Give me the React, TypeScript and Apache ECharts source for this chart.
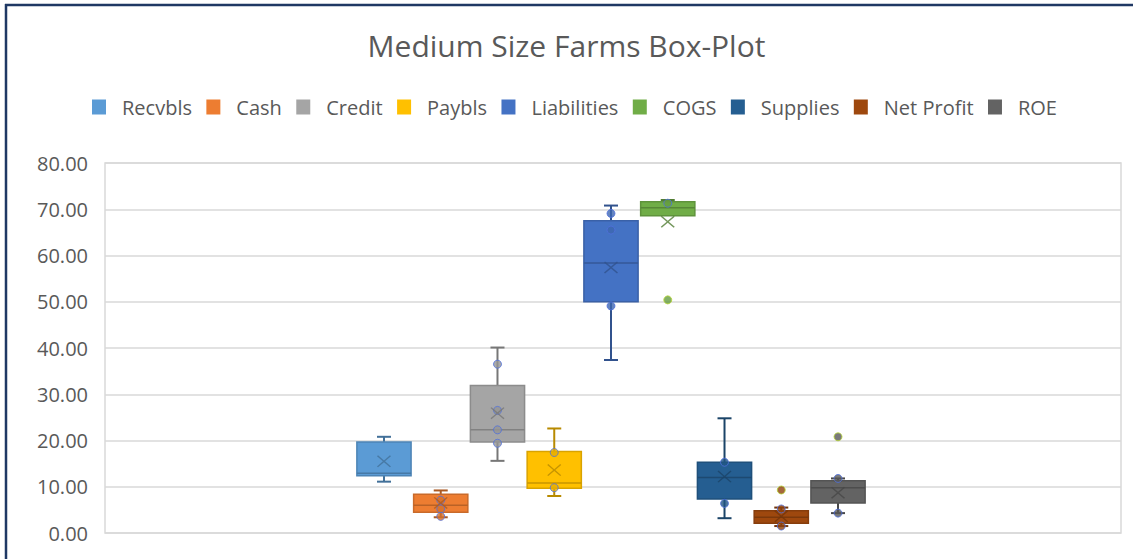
import React, { useEffect, useRef } from 'react';
import * as echarts from 'echarts';

// Box-plot statistics per measure (values in the same units as the y axis)
const categories = ['Recvbls', 'Cash', 'Credit', 'Paybls', 'Liabilities', 'COGS', 'Supplies', 'Net Profit', 'ROE'];
const whiskerLow = [11.1, 3.4, 15.6, 8.0, 37.4, 68.6, 3.2, 1.5, 4.3];
const quartile1 = [12.4, 4.5, 19.7, 9.7, 50.0, 68.6, 7.35, 2.1, 6.5];
const medians = [12.9, 6.0, 22.3, 10.8, 58.4, 70.3, 12.0, 3.4, 9.8];
const quartile3 = [19.7, 8.4, 31.9, 17.6, 67.5, 71.6, 15.3, 4.8, 11.3];
const whiskerHigh = [20.8, 9.2, 40.1, 22.6, 70.8, 72.0, 24.8, 5.5, 11.8];
const means = [15.5, 6.5, 25.9, 13.6, 57.4, 67.3, 12.2, 3.6, 8.7];
const innerPoints = [
  [],
  [7.1, 5.2, 3.6],
  [36.5, 26.5, 22.3, 19.4],
  [17.4, 9.8],
  [69.1, 65.5, 49.1],
  [71.3],
  [15.3, 6.4],
  [5.2, 1.5],
  [11.8, 4.3],
];
const outliers = [[], [], [], [], [], [50.4], [], [9.3], [20.8]];

const seriesColors = ['#5B9BD5', '#ED7D31', '#A5A5A5', '#FFC000', '#4472C4', '#70AD47', '#255E91', '#9E480E', '#636363'];

const FONT = '"Open Sans", sans-serif';
const TEXT = '#595959';

function shade(hex: string, f: number): string {
  const n = parseInt(hex.slice(1), 16);
  const r = Math.round(((n >> 16) & 255) * f);
  const g = Math.round(((n >> 8) & 255) * f);
  const b = Math.round((n & 255) * f);
  return `rgb(${r},${g},${b})`;
}

const X_MARK = 'path://M0,0.9L0.9,0L6,5.1L11.1,0L12,0.9L6.9,6L12,11.1L11.1,12L6,6.9L0.9,12L0,11.1L5.1,6Z';

export default function App() {
  const ref = useRef<HTMLDivElement>(null);

  useEffect(() => {
    if (!ref.current) return;
    const chart = echarts.init(ref.current, null, { renderer: 'svg' });

    const boxSeries = categories.map((name, i) => ({
      name,
      type: 'custom',
      xAxisIndex: 1,
      yAxisIndex: 1,
      z: 2,
      itemStyle: { color: seriesColors[i] },
      encode: { x: 0, y: [1, 2, 3, 4, 5] },
      data: [[i, whiskerLow[i], quartile1[i], medians[i], quartile3[i], whiskerHigh[i]]],
      renderItem: (params: any, api: any) => {
        const idx = api.value(0);
        const color = seriesColors[idx];
        const lo = api.coord([idx, api.value(1)]);
        const q1 = api.coord([idx, api.value(2)]);
        const md = api.coord([idx, api.value(3)]);
        const q3 = api.coord([idx, api.value(4)]);
        const hi = api.coord([idx, api.value(5)]);
        const cx = lo[0];
        const bw = api.size([1, 0])[0] * 0.955;
        const cap = 7;
        const wStyle = { stroke: shade(color, 0.72), lineWidth: 2 };
        const children: any[] = [];
        if (hi[1] < q3[1] - 0.5) {
          children.push({ type: 'line', shape: { x1: cx, y1: hi[1], x2: cx, y2: q3[1] }, style: wStyle });
          children.push({ type: 'line', shape: { x1: cx - cap, y1: hi[1], x2: cx + cap, y2: hi[1] }, style: wStyle });
        }
        if (lo[1] > q1[1] + 0.5) {
          children.push({ type: 'line', shape: { x1: cx, y1: q1[1], x2: cx, y2: lo[1] }, style: wStyle });
          children.push({ type: 'line', shape: { x1: cx - cap, y1: lo[1], x2: cx + cap, y2: lo[1] }, style: wStyle });
        }
        children.push({
          type: 'rect',
          shape: { x: cx - bw / 2, y: q3[1], width: bw, height: q1[1] - q3[1] },
          style: { fill: color, stroke: shade(color, 0.85), lineWidth: 1.5 },
        });
        children.push({
          type: 'line',
          shape: { x1: cx - bw / 2, y1: md[1], x2: cx + bw / 2, y2: md[1] },
          style: { stroke: shade(color, 0.78), lineWidth: 1.5 },
        });
        return { type: 'group', children };
      },
    }));

    const pointData: number[][] = [];
    innerPoints.forEach((vals, i) => vals.forEach((v) => pointData.push([i, v])));
    const outlierData: number[][] = [];
    outliers.forEach((vals, i) => vals.forEach((v) => outlierData.push([i, v])));
    const meanData = means.map((v, i) => [i, v]);

    const pointStyle = {
      color: (p: any) => shade(seriesColors[p.value[0]], 0.9),
      borderColor: (p: any) => shade(seriesColors[p.value[0]], 0.7),
      borderWidth: 1,
    };

    const option: any = {
      animation: false,
      backgroundColor: '#ffffff',
      title: {
        text: 'Medium Size Farms Box-Plot',
        left: 'center',
        top: 20,
        textStyle: { fontFamily: FONT, fontSize: 30, fontWeight: 'normal', color: TEXT, lineHeight: 40 },
      },
      legend: {
        data: categories,
        top: 92,
        left: 87,
        icon: 'rect',
        itemWidth: 14,
        itemHeight: 15,
        itemGap: 14.4,
        textStyle: { fontFamily: FONT, fontSize: 20, color: TEXT, padding: [0, 0, 0, 11] },
      },
      grid: [
        { left: 105, top: 163, width: 1016, height: 370, show: true, borderColor: '#D9D9D9', borderWidth: 1.5 },
        { left: 355.6, top: 163, width: 510.8, height: 370 },
      ],
      xAxis: [
        { type: 'category', gridIndex: 0, data: [''], axisLine: { show: false }, axisTick: { show: false }, axisLabel: { show: false } },
        { type: 'category', gridIndex: 1, data: categories, show: false },
      ],
      yAxis: [
        {
          type: 'value',
          gridIndex: 0,
          min: 0,
          max: 80,
          interval: 10,
          axisLine: { show: false },
          axisTick: { show: false },
          splitLine: { lineStyle: { color: '#D9D9D9', width: 1.5 } },
          axisLabel: {
            margin: 17,
            fontFamily: FONT,
            fontSize: 20,
            color: TEXT,
            formatter: (v: number) => v.toFixed(2),
          },
        },
        { type: 'value', gridIndex: 1, min: 0, max: 80, show: false },
      ],
      graphic: [
        { type: 'line', shape: { x1: 6, y1: 4, x2: 6, y2: 559 }, style: { stroke: '#1F3864', lineWidth: 2.5 } },
        { type: 'line', shape: { x1: 5, y1: 5, x2: 1133, y2: 5 }, style: { stroke: '#1F3864', lineWidth: 2.5 } },
      ],
      series: [
        ...boxSeries,
        {
          name: 'inner points',
          type: 'scatter',
          xAxisIndex: 1,
          yAxisIndex: 1,
          z: 4,
          symbol: 'circle',
          symbolSize: 8,
          data: pointData,
          itemStyle: pointStyle,
        },
        {
          name: 'outliers',
          type: 'scatter',
          xAxisIndex: 1,
          yAxisIndex: 1,
          z: 4,
          symbol: 'circle',
          symbolSize: 8,
          data: outlierData,
          itemStyle: pointStyle,
        },
        {
          name: 'mean',
          type: 'scatter',
          xAxisIndex: 1,
          yAxisIndex: 1,
          z: 5,
          symbol: X_MARK,
          symbolSize: [14, 12],
          data: meanData,
          itemStyle: { color: (p: any) => shade(seriesColors[p.value[0]], 0.72) },
        },
      ],
    };

    chart.setOption(option);
    return () => chart.dispose();
  }, []);

  return (
    <div
      ref={ref}
      style={{ position: 'fixed', left: 0, top: 0, width: 1133, height: 559, background: '#ffffff' }}
    />
  );
}
